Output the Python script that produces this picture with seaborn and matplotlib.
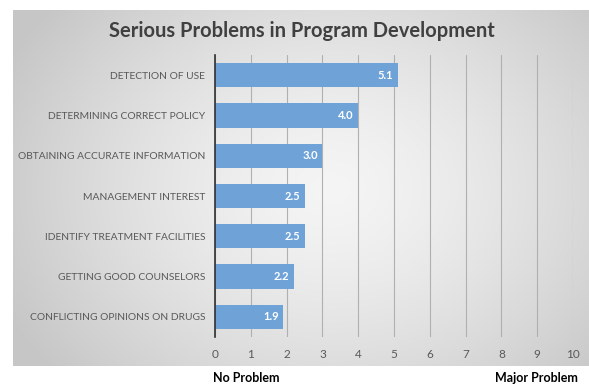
import numpy as np
import pandas as pd
import matplotlib
matplotlib.use("Agg")
import matplotlib.pyplot as plt
import seaborn as sns

categories = ["DETECTION OF USE", "DETERMINING CORRECT POLICY", "OBTAINING ACCURATE INFORMATION",
              "MANAGEMENT INTEREST", "IDENTIFY TREATMENT FACILITIES", "GETTING GOOD COUNSELORS",
              "CONFLICTING OPINIONS ON DRUGS"]
values = [5.1, 4.0, 3.0, 2.5, 2.5, 2.2, 1.9]
x_ticks = [0, 1, 2, 3, 4, 5, 6, 7, 8, 9, 10]
title = "Serious Problems in Program Development"
left_note = "No Problem"
right_note = "Major Problem"

sns.set_theme(style="white")
plt.rcParams['font.family'] = ['Lato', 'DejaVu Sans']

W, H = 589, 385
fig = plt.figure(figsize=(W / 100, H / 100), dpi=100)

# gradient background panel
bg = fig.add_axes([13 / W, 1 - 366 / H, 1 - 13 / W, (366 - 10) / H], zorder=0)
ny, nx = 200, 300
yy, xx = np.mgrid[0:ny, 0:nx]
cx, cy = nx * 0.55, ny * 0.5
r = np.sqrt(((xx - cx) / (nx * 0.62)) ** 2 + ((yy - cy) / (ny * 0.8)) ** 2)
r = np.clip(r, 0, 1)
c0, c1 = 0.96, 0.78
g = c0 + (c1 - c0) * r ** 1.4
img = np.dstack([g, g, g])
bg.imshow(img, aspect="auto", extent=[0, 1, 0, 1], interpolation="bilinear")
bg.set_axis_off()

ax = fig.add_axes([215 / W, 1 - 337 / H, (573 - 215) / W, (337 - 55) / H], zorder=1)
ax.patch.set_alpha(0)

df = pd.DataFrame({"category": categories, "value": values})
sns.barplot(data=df, x="value", y="category", orient="h", color="#6fa3d8",
            saturation=1, width=0.6, ax=ax, zorder=3, edgecolor="none", linewidth=0)

for p, v in zip(ax.patches, values):
    ax.text(p.get_x() + p.get_width() - 0.12, p.get_y() + p.get_height() / 2,
            f"{v:.1f}", ha="right", va="center", color="white",
            fontsize=8, fontweight="bold", zorder=4)

ax.set_xlim(0, 10)
ax.set_ylim(6.5, -0.5)
ax.set_xticks(x_ticks)
ax.set_xticklabels([str(t) for t in x_ticks], color="#595959", fontsize=8.5)
ax.tick_params(axis="x", length=0, pad=9)
ax.tick_params(axis="y", length=0, pad=7, labelsize=7.4, labelcolor="#595959")
ax.set_xlabel("")
ax.set_ylabel("")
ax.grid(axis="x", color="#b0b0b0", linewidth=0.8, zorder=0)
for s in ["top", "right", "bottom"]:
    ax.spines[s].set_visible(False)
ax.spines["left"].set_color("#303030")
ax.spines["left"].set_linewidth(1.2)
ax.spines["left"].set_zorder(5)

fig.text(302 / W, 1 - 31 / H, title, ha="center", va="center", fontsize=14.5,
         fontweight="bold", color="#404040")
fig.text(246 / W, 1 - 378 / H, left_note, ha="center", va="center", fontsize=9,
         fontweight="bold", color="black")
fig.text(536 / W, 1 - 378 / H, right_note, ha="center", va="center", fontsize=9,
         fontweight="bold", color="black")

fig.savefig("out.png", dpi=100)
